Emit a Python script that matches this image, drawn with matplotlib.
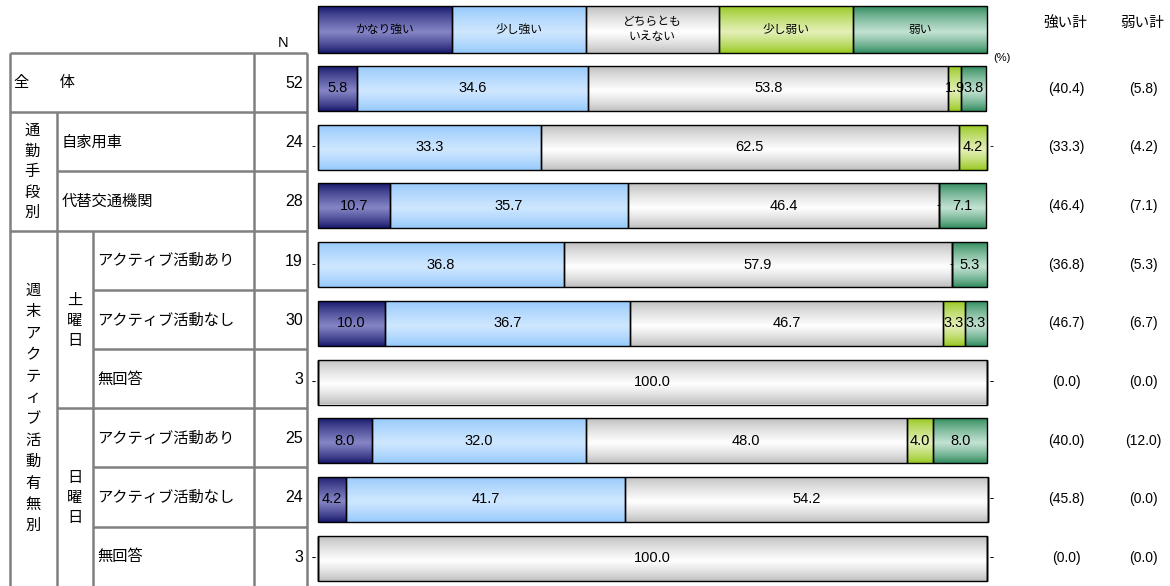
import numpy as np
import matplotlib
matplotlib.use("Agg")
import matplotlib.pyplot as plt
from matplotlib.colors import to_rgb

plt.rcParams['font.family'] = ['Liberation Sans', 'Noto Sans CJK JP', 'DejaVu Sans']

# ------------------------------------------------------------
# Data
# ------------------------------------------------------------
categories = ["かなり強い", "少し強い", "どちらとも\nいえない", "少し弱い", "弱い"]

row_labels = ["全　　体", "自家用車", "代替交通機関",
              "アクティブ活動あり", "アクティブ活動なし", "無回答",
              "アクティブ活動あり", "アクティブ活動なし", "無回答"]
n_values = [52, 24, 28, 19, 30, 3, 25, 24, 3]

very_strong = [5.8, 0.0, 10.7, 0.0, 10.0, 0.0, 8.0, 4.2, 0.0]
bit_strong = [34.6, 33.3, 35.7, 36.8, 36.7, 0.0, 32.0, 41.7, 0.0]
neutral = [53.8, 62.5, 46.4, 57.9, 46.7, 100.0, 48.0, 54.2, 100.0]
bit_weak = [1.9, 4.2, 0.0, 0.0, 3.3, 0.0, 4.0, 0.0, 0.0]
weak = [3.8, 0.0, 7.1, 5.3, 3.3, 0.0, 8.0, 0.0, 0.0]

strong_total = [40.4, 33.3, 46.4, 36.8, 46.7, 0.0, 40.0, 45.8, 0.0]
weak_total = [5.8, 4.2, 7.1, 5.3, 6.7, 0.0, 12.0, 0.0, 0.0]

series = [very_strong, bit_strong, neutral, bit_weak, weak]

# gradient colours per category: (edge colour, centre colour)
grad_colors = [("#16166a", "#8585c6"),
               ("#94c8fb", "#cfe7ff"),
               ("#bdbdbd", "#ffffff"),
               ("#96c81e", "#e4f0b8"),
               ("#2e8a5c", "#c3e3d3")]

W, H = 1170, 586
fig = plt.figure(figsize=(W / 100, H / 100), dpi=100)

# table layer in pixel coordinates
tab = fig.add_axes([0, 0, 1, 1])
tab.set_xlim(0, W)
tab.set_ylim(H, 0)
tab.axis("off")

# bar layer: x in percent, y in pixels
bx0, bx1 = 318, 987
ax = fig.add_axes([bx0 / W, 0, (bx1 - bx0) / W, 1])
ax.set_xlim(0, 100)
ax.set_ylim(H, 0)
ax.axis("off")

num_font = ["Liberation Sans Narrow", "Liberation Sans"]


def gradient(edge, mid, n=64):
    e = np.array(to_rgb(edge))
    m = np.array(to_rgb(mid))
    t = np.linspace(0, 1, n)
    w = np.where(t < 0.55, t / 0.55, (1 - t) / 0.45)
    w = np.clip(w, 0, 1) ** 0.8
    return (e[None, :] * (1 - w[:, None]) + m[None, :] * w[:, None])[:, None, :]


def shade(bars, k):
    img = gradient(*grad_colors[k])
    for b in bars:
        b.set_clip_on(False)
        x, y = b.get_x(), b.get_y()
        w, h = b.get_width(), b.get_height()
        if w <= 0:
            continue
        im = ax.imshow(img, extent=(x, x + w, y + h, y), origin="upper",
                       aspect="auto", zorder=1, interpolation="bilinear")
        im.set_clip_path(b)


# ------------------------------------------------------------
# Legend boxes at the top
# ------------------------------------------------------------
leg_w = 100 / len(categories)
for k, cat in enumerate(categories):
    lb = ax.barh([29.5], [leg_w], left=[k * leg_w], height=47,
                 facecolor="none", edgecolor="black", linewidth=1, zorder=2)
    shade(lb, k)
    ax.text(k * leg_w + leg_w / 2, 29.5, cat, ha="center", va="center",
            fontsize=8.5, linespacing=1.3, zorder=3)

# ------------------------------------------------------------
# Stacked bars
# ------------------------------------------------------------
row_y = [88.5 + 58.7 * i for i in range(len(n_values))]
bar_h = 45
left = np.zeros(len(n_values))
for k, vals in enumerate(series):
    vals = np.array(vals)
    bars = ax.barh(row_y, vals, left=left, height=bar_h, facecolor="none",
                   edgecolor="black", linewidth=1, zorder=2)
    shade(bars, k)
    for i, v in enumerate(vals):
        if v > 0:
            ax.text(left[i] + v / 2, row_y[i], f"{v:.1f}", ha="center",
                    va="center", fontsize=10.5, zorder=3, family=num_font)
        else:
            pos = left[i]
            if pos <= 0:
                ax.text(-0.3, row_y[i], "-", ha="right", va="center",
                        fontsize=9, zorder=3, clip_on=False)
            elif pos >= 100:
                ax.text(100.3, row_y[i], "-", ha="left", va="center",
                        fontsize=9, zorder=3, clip_on=False)
            else:
                ax.text(pos, row_y[i], "-", ha="center", va="center",
                        fontsize=9, zorder=3)
    left = left + vals

ax.text(101, 58, "(%)", ha="left", va="center", fontsize=8)

# ------------------------------------------------------------
# Left-hand table
# ------------------------------------------------------------
line_kw = dict(color="#808080", linewidth=1.8, solid_capstyle="butt")
row_edges = [53 + 59.2 * i for i in range(len(n_values))]
h_starts = [10, 10, 57, 10, 93, 93, 57, 93, 93]
for y, x0 in zip(row_edges, h_starts):
    tab.plot([x0, 307], [y, y], **line_kw)
tab.plot([10, 10], [53, H], **line_kw)
tab.plot([57, 57], [row_edges[1], H], **line_kw)
tab.plot([93, 93], [row_edges[3], H], **line_kw)
tab.plot([254, 254], [53, H], **line_kw)
tab.plot([307, 307], [53, H], **line_kw)

tab.text(283, 43, "N", ha="center", va="center", fontsize=10.5)

cell_y = [e + 30.5 for e in row_edges]
label_x = [14, 62, 62, 97, 97, 97, 97, 97, 97]
for i, lab in enumerate(row_labels):
    tab.text(label_x[i], cell_y[i], lab, ha="left", va="center", fontsize=11)
    tab.text(303, cell_y[i], str(n_values[i]), ha="right", va="center",
             fontsize=11.5)

# vertical group captions
for j, ch in enumerate("通勤手段別"):
    tab.text(32, 131 + 20.5 * j, ch, ha="center", va="center", fontsize=11)
for j, ch in enumerate("週末アクティブ活動有無別"):
    tab.text(33, 291 + 21.4 * j, ch, ha="center", va="center", fontsize=11)
for j, ch in enumerate("土曜日"):
    tab.text(75, 301 + 20 * j, ch, ha="center", va="center", fontsize=11)
for j, ch in enumerate("日曜日"):
    tab.text(75, 478 + 20 * j, ch, ha="center", va="center", fontsize=11)

# ------------------------------------------------------------
# Right-hand totals
# ------------------------------------------------------------
tab.text(1065, 23, "強い計", ha="center", va="center", fontsize=10.5)
tab.text(1142, 23, "弱い計", ha="center", va="center", fontsize=10.5)
for i in range(len(n_values)):
    tab.text(1066, row_y[i], f"({strong_total[i]:.1f})", ha="center",
             va="center", fontsize=10)
    tab.text(1143, row_y[i], f"({weak_total[i]:.1f})", ha="center",
             va="center", fontsize=10)

fig.savefig("out.png", dpi=100)
